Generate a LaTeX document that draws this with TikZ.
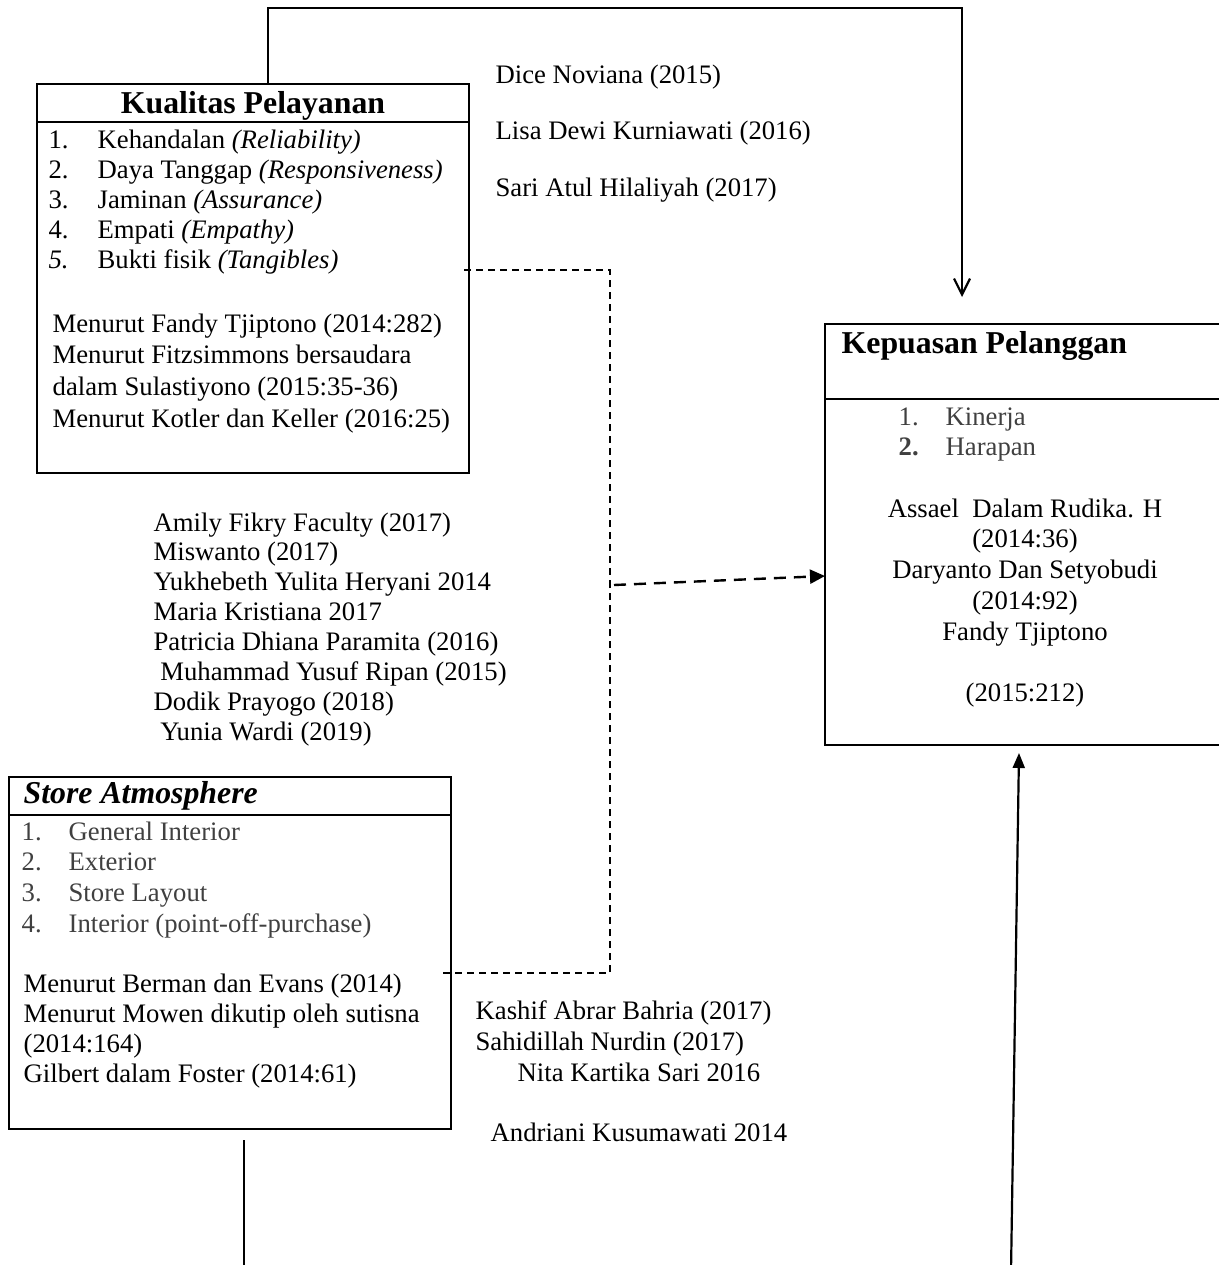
\documentclass[tikz,border=0pt]{standalone}
\usepackage{fontspec}
\setmainfont{Liberation Serif}
\usetikzlibrary{arrows.meta, calc}
\definecolor{cgrey}{HTML}{404040}
\tikzset{
  every picture/.style={x=0.5pt, y=-0.5pt, line width=0.65pt},
  box/.style={draw, rectangle, inner sep=0pt, outer sep=0pt, anchor=north west},
  txt/.style={inner sep=0pt, anchor=base west, font=\fontsize{13.35}{#1}\selectfont},
  txt/.default=15pt,
  head/.style={inner sep=0pt, anchor=base west, font=\fontsize{15.9}{18}\selectfont\bfseries},
  link/.style={line width=1.1pt},
  dline/.style={dash pattern=on 3.5pt off 2.5pt, line width=0.65pt},
  darrow/.style={-{Triangle[length=7.5pt, width=7pt]}, dash pattern=on 6pt off 4pt, line width=1.2pt},
}

\begin{document}
\begin{tikzpicture}
  \useasboundingbox (0,0) rectangle (1219,1265);
  % boxes
  \node[box, minimum width=216pt, minimum height=194.5pt] (kual) at (37,84) {};
  \node[box, minimum width=199.5pt, minimum height=210.5pt] (kep) at (825,324) {};
  \node[box, minimum width=221pt, minimum height=176pt] (store) at (9,777) {};
  \draw (kual.north west) ++(0,38) -- ++(432,0);
  \draw (kep.north west) ++(0,75) -- ++(399,0);
  \draw (store.north west) ++(0,38) -- ++(442,0);
  % kualitas pelayanan
  \node[head, anchor=base] (kualt) at (253,113) {Kualitas Pelayanan};
  \node[txt] (kuall) at (48,148) {\begin{tabular}[t]{@{}p{24.5pt}@{}l@{}}
    1. & Kehandalan \textit{(Reliability)}\\
    2. & Daya Tanggap \textit{(Responsiveness)}\\
    3. & Jaminan \textit{(Assurance)}\\
    4. & Empati \textit{(Empathy)}\\
    \textit{5.} & Bukti fisik \textit{(Tangibles)}
  \end{tabular}};
  \node[txt=15.85pt] (kualr) at (52,332) {\begin{tabular}[t]{@{}l@{}}
    Menurut Fandy Tjiptono (2014:282)\\
    Menurut Fitzsimmons bersaudara\\
    dalam Sulastiyono (2015:35-36)\\
    Menurut Kotler dan Keller (2016:25)
  \end{tabular}};
  % kepuasan pelanggan
  \node[head] (kept) at (841,353) {Kepuasan Pelanggan};
  \node[txt, text=cgrey] (kepl) at (898,425) {\begin{tabular}[t]{@{}p{23.5pt}@{}l@{}}
    1. & Kinerja\\
    \textbf{2.} & Harapan
  \end{tabular}};
  \node[txt=15.4pt, anchor=base] (kepr) at (1025,517) {\begin{tabular}[t]{@{}c@{}}
    Assael\ \ Dalam Rudika. H\\
    (2014:36)\\
    Daryanto Dan Setyobudi\\
    (2014:92)\\
    Fandy Tjiptono\\
    \\
    (2015:212)
  \end{tabular}};
  % store atmosphere
  \node[head, font=\fontsize{15.9}{18}\selectfont\bfseries\itshape] (storet) at (23,803) {Store Atmosphere};
  \node[txt=15.35pt, text=cgrey] (storel) at (21,840) {\begin{tabular}[t]{@{}p{23.5pt}@{}l@{}}
    1. & General Interior\\
    2. & Exterior\\
    3. & Store Layout\\
    4. & Interior (point-off-purchase)
  \end{tabular}};
  \node[txt=15.15pt] (storer) at (23,992) {\begin{tabular}[t]{@{}l@{}}
    Menurut Berman dan Evans (2014)\\
    Menurut Mowen dikutip oleh sutisna\\
    (2014:164)\\
    Gilbert dalam Foster (2014:61)
  \end{tabular}};
  % research lists
  \node[txt=28.25pt] (refa) at (495,83) {\begin{tabular}[t]{@{}l@{}}
    Dice Noviana (2015)\\
    Lisa Dewi Kurniawati (2016)\\
    Sari Atul Hilaliyah (2017)
  \end{tabular}};
  \node[txt=14.95pt] (refb) at (153,531) {\begin{tabular}[t]{@{}l@{}}
    Amily Fikry Faculty (2017)\\
    Miswanto (2017)\\
    Yukhebeth Yulita Heryani 2014\\
    Maria Kristiana 2017\\
    Patricia Dhiana Paramita (2016)\\
    \ Muhammad Yusuf Ripan (2015)\\
    Dodik Prayogo (2018)\\
    \ Yunia Wardi (2019)
  \end{tabular}};
  \node[txt=15.5pt] (refc) at (475,1019) {\begin{tabular}[t]{@{}l@{}}
    Kashif Abrar Bahria (2017)\\
    Sahidillah Nurdin (2017)\\
    \hspace{21pt}Nita Kartika Sari 2016
  \end{tabular}};
  \node[txt] (refd) at (490,1141) {Andriani Kusumawati 2014};
  % connectors
  \coordinate (vtip) at (962,297);
  \draw[link, -{Straight Barb[length=8pt, width=8pt]}] (kual.north west) ++(231,0) -- ++(0,-76) -| (vtip);
  \coordinate (junc) at (610,585);
  \draw[dline] (kual.north east) ++(-5,186) -| (junc);
  \draw[dline] (store.north east) ++(-8,196) -| (junc);
  \draw[darrow] (junc) ++(4,0) -- ($(kep.north west)+(0,252)$);
  \coordinate (sfoot) at (244,1272);
  \draw[link] (store.south west) ++(235,11) -- (sfoot);
  \coordinate (kfoot) at (1011,1272);
  \draw[link, -{Triangle[length=7.5pt, width=6pt]}] (kfoot) -- ($(kep.south west)+(194,8)$);
\end{tikzpicture}
\end{document}
